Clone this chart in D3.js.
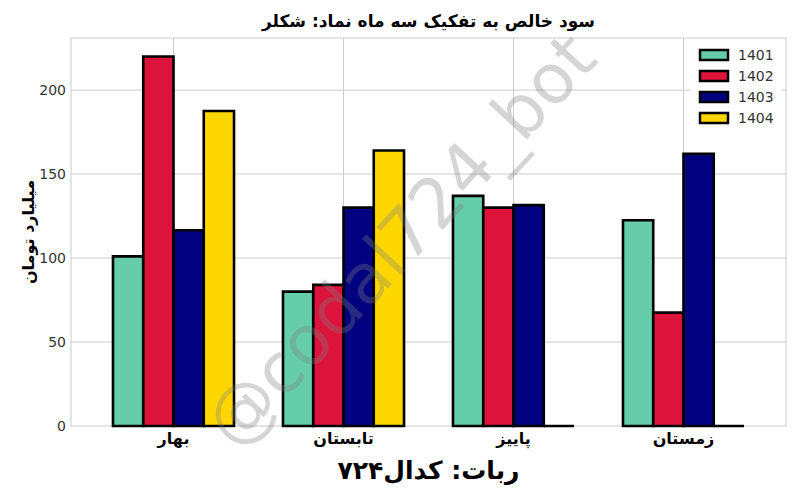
<!DOCTYPE html>
<html>
<head>
<meta charset="utf-8">
<script src="https://cdn.jsdelivr.net/npm/d3@7"></script>
<style>
  body { margin: 0; background: #fff; }
  svg { display: block; }
</style>
</head>
<body>
<div id="wrapper"></div>
<script>
// data
const seasons = ["بهار", "تابستان", "پاییز", "زمستان"];
const years = ["1401", "1402", "1403", "1404"];
const values1401 = [101, 80, 137, 122.5];
const values1402 = [220, 84, 130, 67.5];
const values1403 = [116.5, 130, 131.5, 162];
const values1404 = [187.5, 164, 0, 0];
const yTicks = [0, 50, 100, 150, 200];
const yearColors = ["#66CDAA", "#DC143C", "#000080", "#FFD700"];

const seriesValues = [values1401, values1402, values1403, values1404];
const rows = seasons.map((s, i) => ({
  season: s,
  bars: years.map((y, j) => ({ year: y, value: seriesValues[j][i] }))
}));

function drawChart() {
  // dimensions
  let dimensions = {
    width: 800,
    height: 500,
    margin: { top: 38, right: 14, bottom: 74, left: 71 },
  };
  dimensions.boundWidth = dimensions.width - dimensions.margin.left - dimensions.margin.right;
  dimensions.boundHeight = dimensions.height - dimensions.margin.top - dimensions.margin.bottom;

  const wrapper = d3.select("#wrapper")
    .append("svg")
    .attr("width", dimensions.width)
    .attr("height", dimensions.height);

  const bounds = wrapper.append("g")
    .attr("transform", `translate(${dimensions.margin.left},${dimensions.margin.top})`);

  // scales
  const x0 = d3.scaleBand()
    .domain(seasons)
    .range([0, dimensions.boundWidth])
    .paddingInner(0.288)
    .paddingOuter(0.247);
  const x1 = d3.scaleBand()
    .domain(years)
    .range([0, x0.bandwidth()]);
  const yScale = d3.scaleLinear()
    .domain([0, 231])
    .range([dimensions.boundHeight, 0]);
  const colorScale = d3.scaleOrdinal().domain(years).range(yearColors);

  // grid
  bounds.append("g")
    .selectAll("line")
    .data(yTicks.slice(1))
    .join("line")
    .attr("x1", 0)
    .attr("x2", dimensions.boundWidth)
    .attr("y1", d => yScale(d))
    .attr("y2", d => yScale(d))
    .attr("stroke", "#cccccc")
    .attr("stroke-width", 1);
  bounds.append("g")
    .selectAll("line")
    .data(seasons)
    .join("line")
    .attr("x1", d => x0(d) + x0.bandwidth() / 2)
    .attr("x2", d => x0(d) + x0.bandwidth() / 2)
    .attr("y1", 0)
    .attr("y2", dimensions.boundHeight)
    .attr("stroke", "#cccccc")
    .attr("stroke-width", 1);

  // frame
  bounds.append("rect")
    .attr("width", dimensions.boundWidth)
    .attr("height", dimensions.boundHeight)
    .attr("fill", "none")
    .attr("stroke", "#cccccc")
    .attr("stroke-width", 1);

  // bars (paths so that zero values still show their edge)
  const groups = bounds.selectAll(".group")
    .data(rows)
    .join("g")
    .attr("class", "group")
    .attr("transform", d => `translate(${x0(d.season)},0)`);
  groups.selectAll("path")
    .data(d => d.bars)
    .join("path")
    .attr("d", d => {
      const x = x1(d.year);
      const w = x1.bandwidth();
      const y0 = yScale(0);
      const y = yScale(d.value);
      return `M${x},${y0}V${y}H${x + w}V${y0}Z`;
    })
    .attr("fill", d => colorScale(d.year))
    .attr("stroke", "#000")
    .attr("stroke-width", 2.6)
    .attr("stroke-linejoin", "miter");

  // y axis labels
  const yAxisGenerator = d3.axisLeft(yScale)
    .tickValues(yTicks)
    .tickSize(0)
    .tickPadding(5);
  const yAxis = bounds.append("g").call(yAxisGenerator);
  yAxis.select(".domain").remove();
  yAxis.selectAll("text")
    .attr("fill", "#333")
    .style("font-family", "DejaVu Sans")
    .style("font-size", "14px");

  // x axis labels
  const xAxisGenerator = d3.axisBottom(x0).tickSize(0).tickPadding(7);
  const xAxis = bounds.append("g")
    .attr("transform", `translate(0,${dimensions.boundHeight})`)
    .call(xAxisGenerator);
  xAxis.select(".domain").remove();
  xAxis.selectAll("text")
    .attr("fill", "#000")
    .style("font-family", "DejaVu Sans")
    .style("font-weight", "bold")
    .style("font-size", "16px");

  // x axis title
  wrapper.append("text")
    .attr("x", dimensions.margin.left + dimensions.boundWidth / 2)
    .attr("y", 479)
    .attr("text-anchor", "middle")
    .style("font-family", "DejaVu Sans")
    .style("font-weight", "bold")
    .style("font-size", "25px")
    .text("ربات: کدال۷۲۴");

  // y axis title
  wrapper.append("text")
    .attr("transform", `translate(34,${dimensions.margin.top + dimensions.boundHeight / 2}) rotate(-90)`)
    .attr("text-anchor", "middle")
    .style("font-family", "DejaVu Sans")
    .style("font-weight", "bold")
    .style("font-size", "16px")
    .text("میلیارد تومان");

  // title
  wrapper.append("text")
    .attr("x", dimensions.margin.left + dimensions.boundWidth / 2)
    .attr("y", 27)
    .attr("text-anchor", "middle")
    .style("font-family", "DejaVu Sans")
    .style("font-weight", "bold")
    .style("font-size", "17px")
    .text("سود خالص به تفکیک سه ماه نماد: شکلر");

  // legend
  const legend = bounds.append("g")
    .attr("transform", `translate(${dimensions.boundWidth - 96},4)`);
  legend.append("rect")
    .attr("width", 92)
    .attr("height", 90)
    .attr("fill", "#fff");
  const items = legend.selectAll(".item")
    .data(years)
    .join("g")
    .attr("class", "item")
    .attr("transform", (d, i) => `translate(0,${8 + i * 21})`);
  items.append("rect")
    .attr("x", 10)
    .attr("width", 28)
    .attr("height", 10)
    .attr("fill", d => colorScale(d))
    .attr("stroke", "#000")
    .attr("stroke-width", 2.5);
  items.append("text")
    .attr("x", 48)
    .attr("y", 5)
    .attr("dy", "0.35em")
    .attr("fill", "#333")
    .style("font-family", "DejaVu Sans")
    .style("font-size", "14px")
    .text(d => d);

  // watermark
  wrapper.append("text")
    .attr("transform", "translate(400,240) rotate(-47)")
    .attr("text-anchor", "middle")
    .attr("dy", "0.35em")
    .attr("fill", "#808080")
    .attr("fill-opacity", 0.33)
    .style("font-family", "DejaVu Sans")
    .style("font-size", "69px")
    .text("@codal724_bot");
}
drawChart();
</script>
</body>
</html>
